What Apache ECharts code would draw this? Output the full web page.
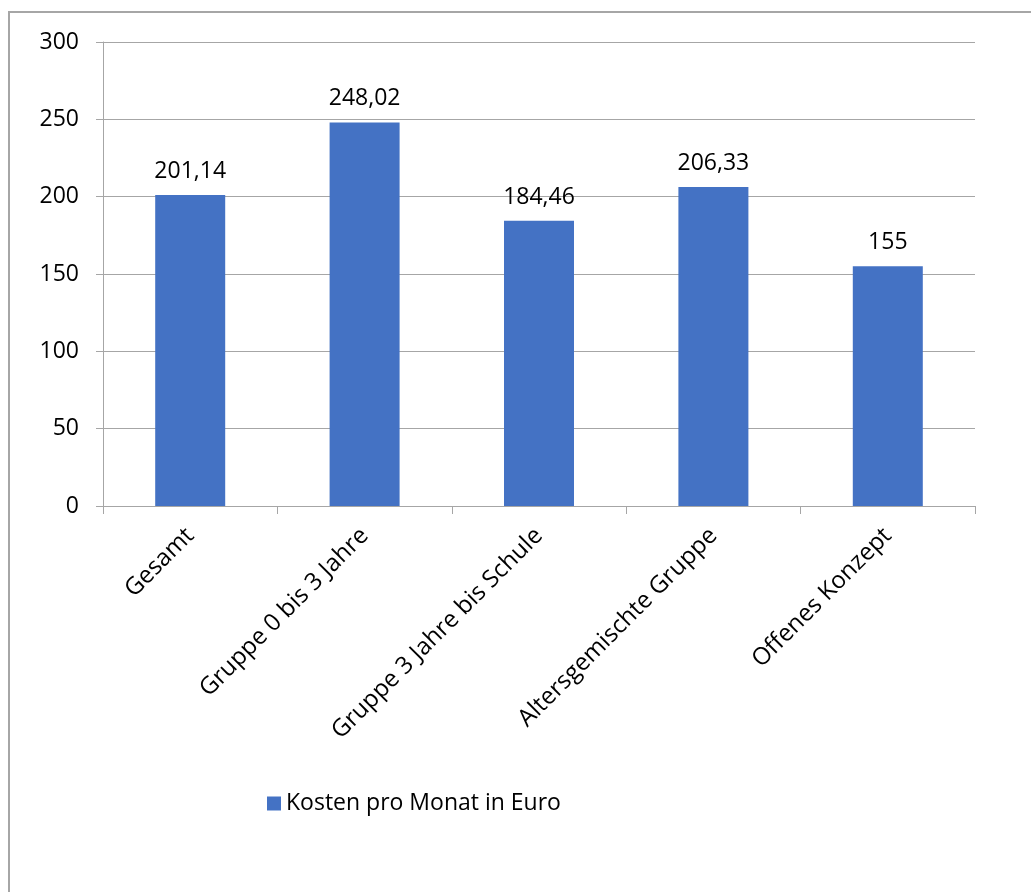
<!DOCTYPE html>
<html>
<head>
<meta charset="utf-8">
<script src="https://cdn.jsdelivr.net/npm/echarts@6/dist/echarts.min.js"></script>
<style>
  html, body { margin: 0; padding: 0; background: #fff; }
  #frame {
    position: absolute; left: 8px; top: 11px; width: 1100px; height: 1000px;
    border-left: 2px solid #a6a6a6; border-top: 2px solid #a6a6a6;
  }
  #chart { position: absolute; left: 0; top: 0; width: 1031px; height: 892px; }
</style>
</head>
<body>
<div id="frame"></div>
<div id="chart"></div>
<script>
  // Daten
  const categories = ['Gesamt', 'Gruppe 0 bis 3 Jahre', 'Gruppe 3 Jahre bis Schule', 'Altersgemischte Gruppe', 'Offenes Konzept'];
  const kosten = [201.14, 248.02, 184.46, 206.33, 155];
  const seriesName = 'Kosten pro Monat in Euro';

  const fontFam = '"Open Sans", sans-serif';
  const gridColor = '#a6a6a6';

  const myChart = echarts.init(document.getElementById('chart'));
  myChart.setOption({
    animation: false,
    grid: { left: 103, right: 56, top: 42, bottom: 386 },
    legend: {
      left: 262, top: 787,
      itemWidth: 14, itemHeight: 14, itemGap: 9,
      icon: 'rect',
      textStyle: { fontSize: 23, color: '#000', fontFamily: fontFam },
      data: [seriesName]
    },
    xAxis: {
      type: 'category',
      data: categories,
      axisLine: { lineStyle: { color: gridColor, width: 1 } },
      axisTick: { show: true, length: 8, lineStyle: { color: gridColor } },
      axisLabel: {
        rotate: 45, margin: 26, interval: 0,
        fontSize: 24, color: '#000', fontFamily: fontFam
      }
    },
    yAxis: {
      type: 'value',
      min: 0, max: 300, interval: 50,
      axisLine: { show: true, lineStyle: { color: gridColor, width: 1 } },
      axisTick: { show: true, length: 7, lineStyle: { color: gridColor } },
      splitLine: { lineStyle: { color: gridColor, width: 1 } },
      axisLabel: { margin: 24, fontSize: 23, color: '#000', fontFamily: fontFam }
    },
    series: [{
      name: seriesName,
      type: 'bar',
      data: kosten,
      barWidth: 70,
      itemStyle: { color: '#4472c4' },
      label: {
        show: true, position: 'top', distance: 12,
        fontSize: 23, color: '#000', fontFamily: fontFam,
        formatter: p => String(p.value).replace('.', ',')
      }
    }]
  });
</script>
</body>
</html>
